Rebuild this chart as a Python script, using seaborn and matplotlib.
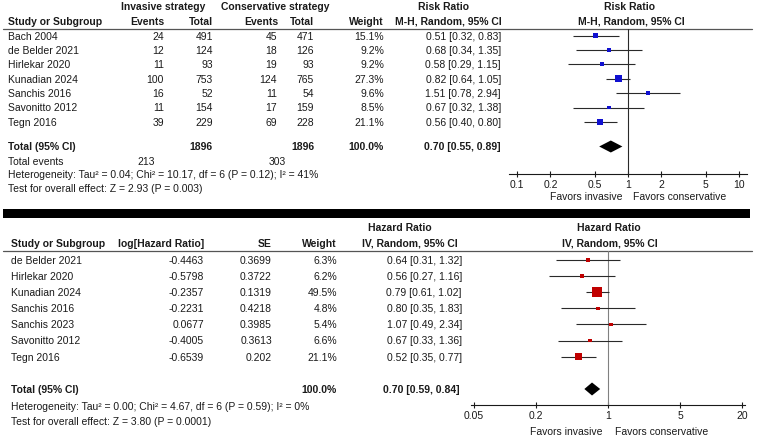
import matplotlib
matplotlib.use("Agg")
import matplotlib.pyplot as plt
from matplotlib.patches import Rectangle
from matplotlib.ticker import FixedLocator, NullLocator
import seaborn as sns

sns.set_theme(style="white")
plt.rcParams['font.family'] = ['Liberation Sans', 'DejaVu Sans']

# --------------------------------------------
# Data: risk ratio (top panel)
# --------------------------------------------
rr_studies = ["Bach 2004", "de Belder 2021", "Hirlekar 2020", "Kunadian 2024",
              "Sanchis 2016", "Savonitto 2012", "Tegn 2016"]
inv_events = [24, 12, 11, 100, 16, 11, 39]
inv_total = [491, 124, 93, 753, 52, 154, 229]
cons_events = [45, 18, 19, 124, 11, 17, 69]
cons_total = [471, 126, 93, 765, 54, 159, 228]
rr_weight = [15.1, 9.2, 9.2, 27.3, 9.6, 8.5, 21.1]
rr = [0.51, 0.68, 0.58, 0.82, 1.51, 0.67, 0.56]
rr_lo = [0.32, 0.34, 0.29, 0.64, 0.78, 0.32, 0.40]
rr_hi = [0.83, 1.35, 1.15, 1.05, 2.94, 1.38, 0.80]
rr_pooled = [0.70, 0.55, 0.89]
rr_ticks = [0.1, 0.2, 0.5, 1, 2, 5, 10]
rr_ticklabels = ["0.1", "0.2", "0.5", "1", "2", "5", "10"]

# --------------------------------------------
# Data: hazard ratio (bottom panel)
# --------------------------------------------
hr_studies = ["de Belder 2021", "Hirlekar 2020", "Kunadian 2024", "Sanchis 2016",
              "Sanchis 2023", "Savonitto 2012", "Tegn 2016"]
log_hr = [-0.4463, -0.5798, -0.2357, -0.2231, 0.0677, -0.4005, -0.6539]
hr_se = [0.3699, 0.3722, 0.1319, 0.4218, 0.3985, 0.3613, 0.202]
hr_weight = [6.3, 6.2, 49.5, 4.8, 5.4, 6.6, 21.1]
hr = [0.64, 0.56, 0.79, 0.80, 1.07, 0.67, 0.52]
hr_lo = [0.31, 0.27, 0.61, 0.35, 0.49, 0.33, 0.35]
hr_hi = [1.32, 1.16, 1.02, 1.83, 2.34, 1.36, 0.77]
hr_pooled = [0.70, 0.59, 0.84]
hr_ticks = [0.05, 0.2, 1, 5, 20]
hr_ticklabels = ["0.05", "0.2", "1", "5", "20"]

# --------------------------------------------
# Figure in pixel coordinates
# --------------------------------------------
W, H = 757, 439
FS = 7.5
INK = '#1a1a1a'

fig = plt.figure(figsize=(W / 100, H / 100), dpi=100)
tab = fig.add_axes([0, 0, 1, 1])
tab.set_xlim(0, W)
tab.set_ylim(H, 0)
tab.axis('off')


def txt(x, y, s, ha='left', bold=False):
    tab.text(x, y, s, ha=ha, va='center', fontsize=FS, color=INK,
             fontweight='bold' if bold else 'normal')


def fmt_ci(v, lo, hi):
    return f"{v:.2f} [{lo:.2f}, {hi:.2f}]"


def forest_axes(x0, x1, y0, y1, xlim, ticks, labels, vcolor):
    ax = fig.add_axes([x0 / W, 1 - y1 / H, (x1 - x0) / W, (y1 - y0) / H])
    ax.patch.set_alpha(0)
    ax.set_xscale('log')
    ax.set_xlim(*xlim)
    ax.set_ylim(y1, y0)
    ax.xaxis.set_major_locator(FixedLocator(ticks))
    ax.xaxis.set_minor_locator(NullLocator())
    ax.set_xticklabels(labels)
    ax.set_yticks([])
    for side in ['top', 'left', 'right']:
        ax.spines[side].set_visible(False)
    ax.spines['bottom'].set_color(INK)
    ax.spines['bottom'].set_linewidth(0.8)
    ax.tick_params(axis='x', bottom=True, direction='inout', length=5, width=0.8,
                   pad=1, labelsize=FS, colors=INK)
    ax.axvline(1, color=vcolor, lw=0.8, zorder=1)
    ax.grid(False)
    return ax


def draw_forest(ax, est, lo, hi, weight, rows, color, smax, pooled, prow, dh):
    ax.hlines(rows, lo, hi, color='#2a2a2a', lw=0.8, zorder=2)
    sns.scatterplot(x=est, y=rows, size=weight, sizes=(0, smax),
                    size_norm=(0, max(weight)), marker='s', color=color,
                    linewidth=0, legend=False, ax=ax, zorder=3)
    p, plo, phi = pooled
    ax.fill([plo, p, phi, p], [prow, prow - dh, prow, prow + dh],
            color='black', lw=0, zorder=3)
    ax.set_xlabel('')
    ax.set_ylabel('')


# --------------------------------------------
# Top panel: risk ratio
# --------------------------------------------
top_rows = [36.5 + 14.4 * i for i in range(len(rr_studies))]
top_total = 147.5

txt(163, 7, "Invasive strategy", ha='center', bold=True)
txt(275, 7, "Conservative strategy", ha='center', bold=True)
txt(443, 7, "Risk Ratio", ha='center', bold=True)
txt(629, 7, "Risk Ratio", ha='center', bold=True)
txt(8, 22, "Study or Subgroup", bold=True)
txt(164, 22, "Events", ha='right', bold=True)
txt(213, 22, "Total", ha='right', bold=True)
txt(278, 22, "Events", ha='right', bold=True)
txt(314, 22, "Total", ha='right', bold=True)
txt(384, 22, "Weight", ha='right', bold=True)
txt(448, 22, "M-H, Random, 95% CI", ha='center', bold=True)
txt(631, 22, "M-H, Random, 95% CI", ha='center', bold=True)
tab.plot([3, 752], [29.5, 29.5], color='#555555', lw=0.9)

for i, y in enumerate(top_rows):
    txt(8, y, rr_studies[i])
    txt(164, y, str(inv_events[i]), ha='right')
    txt(213, y, str(inv_total[i]), ha='right')
    txt(277, y, str(cons_events[i]), ha='right')
    txt(314, y, str(cons_total[i]), ha='right')
    txt(384, y, f"{rr_weight[i]:.1f}%", ha='right')
    txt(501, y, fmt_ci(rr[i], rr_lo[i], rr_hi[i]), ha='right')

txt(8, top_total, "Total (95% CI)", bold=True)
txt(213, top_total, str(sum(inv_total)), ha='right', bold=True)
txt(314, top_total, str(sum(cons_total)), ha='right', bold=True)
txt(384, top_total, "100.0%", ha='right', bold=True)
txt(501, top_total, fmt_ci(*rr_pooled), ha='right', bold=True)
txt(8, 162, "Total events")
txt(155, 162, str(sum(inv_events)), ha='right')
txt(286, 162, str(sum(cons_events)), ha='right')
txt(8, 175.5, "Heterogeneity: Tau² = 0.04; Chi² = 10.17, df = 6 (P = 0.12); I² = 41%")
txt(8, 189.5, "Test for overall effect: Z = 2.93 (P = 0.003)")
txt(623, 197, "Favors invasive", ha='right')
txt(633, 197, "Favors conservative")

ax_top = forest_axes(509, 747, 29.5, 175, (0.0847, 11.8), rr_ticks, rr_ticklabels, '#2a2a2a')
draw_forest(ax_top, rr, rr_lo, rr_hi, rr_weight, top_rows, '#1010d0', 25,
            rr_pooled, top_total, 6)

# Separator bar
tab.add_patch(Rectangle((3, 210), 747, 9, color='black', lw=0))

# --------------------------------------------
# Bottom panel: hazard ratio
# --------------------------------------------
bot_rows = [261 + 16.1 * i for i in range(len(hr_studies))]
bot_total = 390

txt(400, 228, "Hazard Ratio", ha='center', bold=True)
txt(609, 228, "Hazard Ratio", ha='center', bold=True)
txt(11, 244, "Study or Subgroup", bold=True)
txt(204, 244, "log[Hazard Ratio]", ha='right', bold=True)
txt(272, 244, "SE", ha='right', bold=True)
txt(337, 244, "Weight", ha='right', bold=True)
txt(410, 244, "IV, Random, 95% CI", ha='center', bold=True)
txt(610, 244, "IV, Random, 95% CI", ha='center', bold=True)
tab.plot([3, 752], [252, 252], color='#555555', lw=0.9)

for i, y in enumerate(bot_rows):
    txt(11, y, hr_studies[i])
    txt(204, y, str(log_hr[i]), ha='right')
    txt(272, y, str(hr_se[i]), ha='right')
    txt(337, y, f"{hr_weight[i]:.1f}%", ha='right')
    txt(462, y, fmt_ci(hr[i], hr_lo[i], hr_hi[i]), ha='right')

txt(11, bot_total, "Total (95% CI)", bold=True)
txt(337, bot_total, "100.0%", ha='right', bold=True)
txt(460, bot_total, fmt_ci(*hr_pooled), ha='right', bold=True)
txt(11, 407, "Heterogeneity: Tau² = 0.00; Chi² = 4.67, df = 6 (P = 0.59); I² = 0%")
txt(11, 422, "Test for overall effect: Z = 3.80 (P = 0.0001)")
txt(602, 432, "Favors invasive", ha='right')
txt(615, 432, "Favors conservative")

ax_bot = forest_axes(471, 745, 252, 406, (0.0468, 21.4), hr_ticks, hr_ticklabels, '#808080')
draw_forest(ax_bot, hr, hr_lo, hr_hi, hr_weight, bot_rows, '#c00000', 52,
            hr_pooled, bot_total, 6.5)

fig.savefig("out.png", dpi=100)
